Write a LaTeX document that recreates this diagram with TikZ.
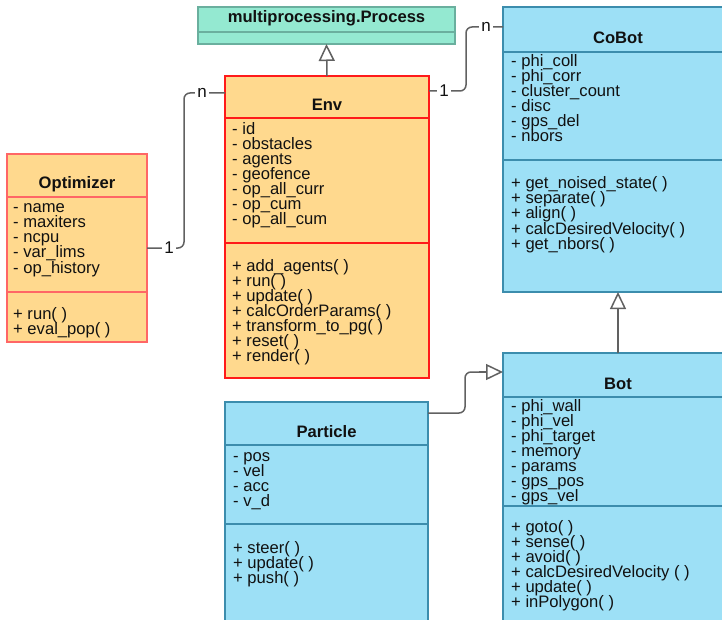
\documentclass[tikz,border=0pt]{standalone}
\usepackage{fontspec}
\setmainfont{Liberation Sans}
\usetikzlibrary{arrows.meta,calc}
\definecolor{orfill}{HTML}{FFD98E}
\definecolor{envred}{HTML}{FF1A1A}
\definecolor{optred}{HTML}{FF6666}
\definecolor{bluefill}{HTML}{9DE0F6}
\definecolor{bluestroke}{HTML}{3C8DAD}
\definecolor{greenfill}{HTML}{94E9D1}
\definecolor{greenstroke}{HTML}{6AAF9E}
\definecolor{conngray}{HTML}{616161}
\definecolor{txt}{HTML}{111111}
\tikzset{
  cls/.style={draw, line width=2pt, anchor=north west, inner sep=0pt, outer sep=0pt},
  envbox/.style={cls, fill=orfill, draw=envred},
  optbox/.style={cls, fill=orfill, draw=optred},
  bluebox/.style={cls, fill=bluefill, draw=bluestroke},
  greenbox/.style={cls, fill=greenfill, draw=greenstroke},
  rowtext/.style={anchor=base west, inner sep=0pt, font=\fontsize{16.6}{15}\selectfont, text=txt},
  titletext/.style={anchor=base, inner sep=0pt, font=\fontsize{16.6}{15}\selectfont\bfseries, text=txt},
  conn/.style={draw=conngray, line width=1.5pt, rounded corners=6pt},
  inherit/.style={draw=conngray, line width=1.5pt, sharp corners, -{Triangle[open, length=17pt, width=16pt, fill=white]}},
  mult/.style={fill=white, inner sep=2.5pt, font=\fontsize{17}{15}\selectfont, text=txt},
}
\newcommand\classrows[4]{\foreach \t [count=\i] in {#4}{\node[rowtext] (#1-\i) at (#2,{#3+15*(\i-1)}) {\t};}}
\begin{document}
\begin{tikzpicture}[x=1pt,y=-1pt]
\useasboundingbox (0,0) rectangle (722,620);
\clip (0,0) rectangle (722,620);

% class boxes
\node[greenbox, minimum width=257pt, minimum height=37pt] (proc) at (198,7) {};
\node[envbox, minimum width=204pt, minimum height=302pt] (env) at (225,76) {};
\node[optbox, minimum width=140pt, minimum height=188pt] (opt) at (7,154) {};
\node[bluebox, minimum width=230pt, minimum height=285pt] (cobot) at (503,7) {};
\node[bluebox, minimum width=230pt, minimum height=287pt] (bot) at (503,353) {};
\node[bluebox, minimum width=203pt, minimum height=238pt] (part) at (225,402) {};

% compartment dividers
\draw[draw=greenstroke, line width=2pt] (proc.west |- 0,32) -- (proc.east |- 0,32);
\draw[draw=envred, line width=2pt] (env.west |- 0,118) -- (env.east |- 0,118);
\draw[draw=envred, line width=2pt] (env.west |- 0,243) -- (env.east |- 0,243);
\draw[draw=optred, line width=2pt] (opt.west |- 0,197) -- (opt.east |- 0,197);
\draw[draw=optred, line width=2pt] (opt.west |- 0,292) -- (opt.east |- 0,292);
\draw[draw=bluestroke, line width=2pt] (cobot.west |- 0,52) -- (cobot.east |- 0,52);
\draw[draw=bluestroke, line width=2pt] (cobot.west |- 0,160) -- (cobot.east |- 0,160);
\draw[draw=bluestroke, line width=2pt] (bot.west |- 0,397) -- (bot.east |- 0,397);
\draw[draw=bluestroke, line width=2pt] (bot.west |- 0,506) -- (bot.east |- 0,506);
\draw[draw=bluestroke, line width=2pt] (part.west |- 0,445) -- (part.east |- 0,445);
\draw[draw=bluestroke, line width=2pt] (part.west |- 0,524) -- (part.east |- 0,524);

% titles
\node[titletext] (proc-t) at (326.5,23) {multiprocessing.Process};
\node[titletext] (env-t) at (327,111) {Env};
\node[titletext] (opt-t) at (77,189) {Optimizer};
\node[titletext] (cobot-t) at (618,44) {CoBot};
\node[titletext] (bot-t) at (618,389) {Bot};
\node[titletext] (part-t) at (326.5,437) {Particle};

% rows
\classrows{env-a}{232}{135}{{- id},{- obstacles},{- agents},{- geofence},{- op\_all\_curr},{- op\_cum},{- op\_all\_cum}}
\classrows{env-m}{232}{271}{{+ add\_agents( )},{+ run( )},{+ update( )},{+ calcOrderParams( )},{+ transform\_to\_pg( )},{+ reset( )},{+ render( )}}
\classrows{opt-a}{13}{213}{{- name},{- maxiters},{- ncpu},{- var\_lims},{- op\_history}}
\classrows{opt-m}{13}{319}{{+ run( )},{+ eval\_pop( )}}
\classrows{cobot-a}{511}{67}{{- phi\_coll},{- phi\_corr},{- cluster\_count},{- disc},{- gps\_del},{- nbors}}
\classrows{cobot-m}{511}{189}{{+ get\_noised\_state( )},{+ separate( )},{+ align( )},{+ calcDesiredVelocity( )},{+ get\_nbors( )}}
\classrows{bot-a}{511}{411}{{- phi\_wall},{- phi\_vel},{- phi\_target},{- memory},{- params},{- gps\_pos},{- gps\_vel}}
\classrows{bot-m}{511}{532}{{+ goto( )},{+ sense( )},{+ avoid( )},{+ calcDesiredVelocity ( )},{+ update( )},{+ inPolygon( )}}
\classrows{part-a}{233}{461}{{- pos},{- vel},{- acc},{- v\_d}}
\classrows{part-m}{233}{553}{{+ steer( )},{+ update( )},{+ push( )}}

% connector anchor points
\coordinate (envL) at ([yshift=-17pt]env.north west);
\coordinate (envR) at ([yshift=-15pt]env.north east);
\coordinate (cobL) at ([yshift=-20pt]cobot.north west);
\coordinate (partR) at ([yshift=-11pt]part.north east);
\coordinate (botL) at ([yshift=-19pt]bot.north west);
\coordinate (botK) at ($(botL)+(-24,0)$);

% connectors
\draw[conn] (opt.east) -| ($(envL)+(-41,0)$) -- (envL);
\draw[conn] (envR) -| ($(cobL)+(-37,0)$) -- (cobL);
\draw[conn] (partR) -| ($(botL)+(-38,0)$) -- (botK);
\draw[inherit] (botK) -- (botL);
\draw[inherit] (env.north) -- (proc.south);
\draw[inherit] (bot.north) -- (cobot.south);

% multiplicities
\node[mult] (m1) at ($(opt.east)+(22,0)$) {1};
\node[mult] (m2) at ($(envL)+(-23,0)$) {n};
\node[mult] (m3) at ($(envR)+(15,0)$) {1};
\node[mult] (m4) at ($(cobL)+(-17,0)$) {n};
\end{tikzpicture}
\end{document}
